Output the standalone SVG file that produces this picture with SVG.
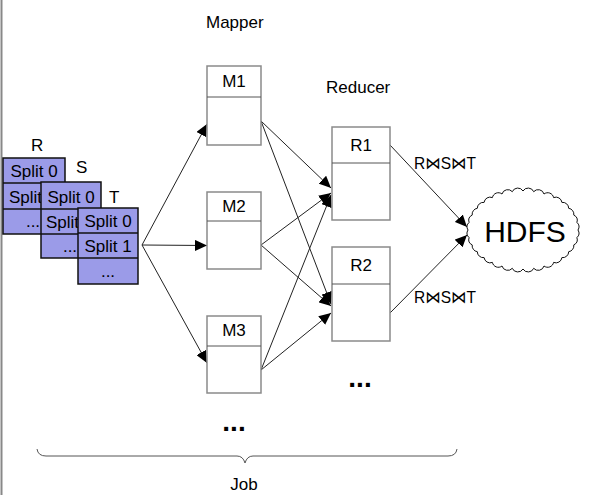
<svg xmlns="http://www.w3.org/2000/svg" width="589" height="504" viewBox="0 0 589 504">
<defs>
<style>
text{font-family:"Liberation Sans",Arial,"DejaVu Sans",sans-serif;fill:#000}
.lbl{font-size:17px}
.hdr{font-size:17px;text-anchor:middle}
.sp{font-size:17px;text-anchor:middle}
.spl{font-size:17px}
.box{fill:#fff;stroke:#8a8a8a;stroke-width:1.5}
.div{stroke:#555;stroke-width:1}
.tbl{fill:#9b9be8;stroke:#111;stroke-width:1.5}
.row{stroke:#111;stroke-width:1.5}
.con{stroke:#222;stroke-width:1;fill:none}
.dots{font-size:28px;text-anchor:middle;font-weight:bold}
</style>
<marker id="ah" viewBox="0 0 12 11" refX="12" refY="5.5" markerWidth="12" markerHeight="11" markerUnits="userSpaceOnUse" orient="auto">
<path d="M0,0 L12,5.5 L0,11 z" fill="#000"/>
</marker>
</defs>
<rect width="589" height="504" fill="#fff"/>
<line x1="1.5" y1="0" x2="1.5" y2="495" stroke="#888" stroke-width="2"/>

<text class="lbl" x="206" y="28">Mapper</text>
<text class="lbl" x="326" y="93">Reducer</text>

<g id="connectors">
<line class="con" x1="142" y1="245" x2="207" y2="124" marker-end="url(#ah)"/>
<line class="con" x1="142" y1="245" x2="207" y2="245.5" marker-end="url(#ah)"/>
<line class="con" x1="142" y1="245" x2="207" y2="363" marker-end="url(#ah)"/>
<line class="con" x1="261" y1="121" x2="331" y2="188" marker-end="url(#ah)"/>
<line class="con" x1="261" y1="121" x2="331" y2="304" marker-end="url(#ah)"/>
<line class="con" x1="261" y1="245" x2="331" y2="193" marker-end="url(#ah)"/>
<line class="con" x1="261" y1="245" x2="331" y2="306" marker-end="url(#ah)"/>
<line class="con" x1="261" y1="370" x2="331" y2="195" marker-end="url(#ah)"/>
<line class="con" x1="261" y1="370" x2="331" y2="313" marker-end="url(#ah)"/>
<line class="con" x1="390" y1="145" x2="467" y2="227" marker-end="url(#ah)"/>
<line class="con" x1="390" y1="313" x2="467" y2="235" marker-end="url(#ah)"/>
</g>

<g id="R">
<text class="lbl" x="31" y="151">R</text>
<rect class="tbl" x="3" y="158" width="62" height="76"/>
<line class="row" x1="3" y1="183" x2="65" y2="183"/>
<line class="row" x1="3" y1="209" x2="65" y2="209"/>
<text class="sp" x="34" y="177">Split 0</text>
<text class="spl" x="9" y="203">Split</text>
<text class="sp" x="33" y="227">...</text>
</g>
<g id="S">
<text class="lbl" x="76" y="173">S</text>
<rect class="tbl" x="41" y="182" width="60" height="76"/>
<line class="row" x1="41" y1="209" x2="101" y2="209"/>
<line class="row" x1="41" y1="234" x2="101" y2="234"/>
<text class="sp" x="71" y="203">Split 0</text>
<text class="spl" x="46" y="228">Split</text>
<text class="sp" x="70" y="252">...</text>
</g>
<g id="T">
<text class="lbl" x="109" y="202.5">T</text>
<rect class="tbl" x="78" y="208" width="60" height="76"/>
<line class="row" x1="78" y1="233" x2="138" y2="233"/>
<line class="row" x1="78" y1="258" x2="138" y2="258"/>
<text class="sp" x="108" y="227">Split 0</text>
<text class="sp" x="108" y="252">Split 1</text>
<text class="sp" x="108" y="277" fill="#333">...</text>
</g>

<g id="M1">
<rect class="box" x="207" y="66" width="54" height="79"/>
<line class="div" x1="207" y1="97" x2="261" y2="97"/>
<text class="hdr" x="234" y="87">M1</text>
</g>
<g id="M2">
<rect class="box" x="207" y="192" width="54" height="77"/>
<line class="div" x1="207" y1="221" x2="261" y2="221"/>
<text class="hdr" x="234" y="212">M2</text>
</g>
<g id="M3">
<rect class="box" x="207" y="316" width="54" height="77"/>
<line class="div" x1="207" y1="346" x2="261" y2="346"/>
<text class="hdr" x="234" y="336">M3</text>
</g>
<g id="R1">
<rect class="box" x="332" y="127" width="58" height="93"/>
<line class="div" x1="332" y1="163" x2="390" y2="163"/>
<text class="hdr" x="361" y="151">R1</text>
</g>
<g id="R2">
<rect class="box" x="332" y="247" width="58" height="94"/>
<line class="div" x1="332" y1="284" x2="390" y2="284"/>
<text class="hdr" x="361" y="271">R2</text>
</g>

<g id="HDFS">
<path d="M578,230 A6,6 0 0 1 576.9,237.6 A6,6 0 0 1 573.8,244.9 A6,6 0 0 1 568.7,251.7 A6,6 0 0 1 561.9,257.6 A6,6 0 0 1 553.6,262.4 A6,6 0 0 1 544,266 A6,6 0 0 1 533.7,268.3 A6,6 0 0 1 523,269 A6,6 0 0 1 512.3,268.3 A6,6 0 0 1 502,266 A6,6 0 0 1 492.4,262.4 A6,6 0 0 1 484.1,257.6 A6,6 0 0 1 477.3,251.7 A6,6 0 0 1 472.2,244.9 A6,6 0 0 1 469.1,237.6 A6,6 0 0 1 468,230 A6,6 0 0 1 469.1,222.4 A6,6 0 0 1 472.2,215.1 A6,6 0 0 1 477.3,208.3 A6,6 0 0 1 484.1,202.4 A6,6 0 0 1 492.4,197.6 A6,6 0 0 1 502,194 A6,6 0 0 1 512.3,191.7 A6,6 0 0 1 523,191 A6,6 0 0 1 533.7,191.7 A6,6 0 0 1 544,194 A6,6 0 0 1 553.6,197.6 A6,6 0 0 1 561.9,202.4 A6,6 0 0 1 568.7,208.3 A6,6 0 0 1 573.8,215.1 A6,6 0 0 1 576.9,222.4 A6,6 0 0 1 578,230 Z" fill="#fff" stroke="#111" stroke-width="1"/>
<text x="525" y="242" font-size="30" text-anchor="middle">HDFS</text>
</g>

<text class="lbl" x="414" y="169" font-size="16" textLength="62" lengthAdjust="spacingAndGlyphs">R⋈S⋈T</text>
<text class="lbl" x="414" y="303" font-size="16" textLength="62" lengthAdjust="spacingAndGlyphs">R⋈S⋈T</text>

<text class="dots" x="360" y="387">...</text>
<text class="dots" x="234" y="431">...</text>

<path d="M37,449 Q38,456 46,456 L237,456 Q243,456 245,463 Q247,456 253,456 L448,456 Q456,456 457,449" fill="none" stroke="#555" stroke-width="1"/>
<text class="lbl" x="244" y="490" text-anchor="middle" font-size="16">Job</text>
</svg>
